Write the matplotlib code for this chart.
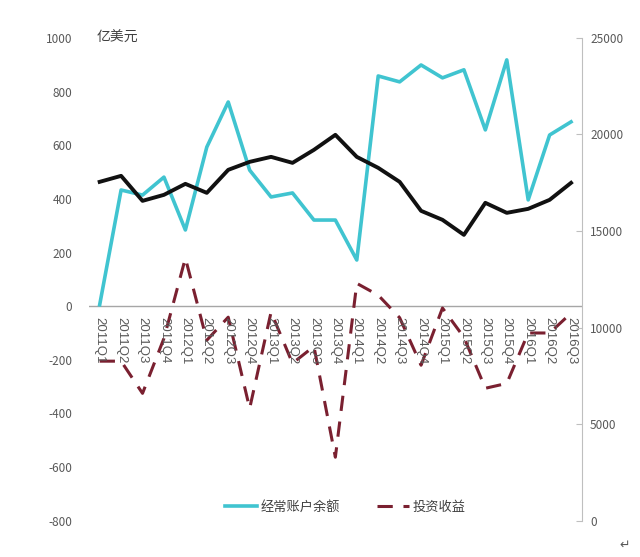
import matplotlib
matplotlib.use("Agg")
import matplotlib.pyplot as plt

plt.rcParams['font.family'] = ['Noto Sans CJK SC', 'DejaVu Sans']
plt.rcParams['axes.unicode_minus'] = False

quarters = ['2011Q1', '2011Q2', '2011Q3', '2011Q4',
            '2012Q1', '2012Q2', '2012Q3', '2012Q4',
            '2013Q1', '2013Q2', '2013Q3', '2013Q4',
            '2014Q1', '2014Q2', '2014Q3', '2014Q4',
            '2015Q1', '2015Q2', '2015Q3', '2015Q4',
            '2016Q1', '2016Q2', '2016Q3']

# 经常账户余额 (left axis, 亿美元)
current_account = [5, 433, 414, 481, 284, 593, 761, 507, 407, 422, 321, 321,
                   172, 858, 836, 899, 851, 881, 657, 918, 396, 638, 687]

# 投资收益 (left axis)
invest_income = [-205, -205, -325, -120, 179, -127, -41, -381, -22, -213,
                 -150, -563, 85, 41, -43, -220, -7, -116, -306, -288, -100,
                 -100, -26]

# black line, right axis
reserves = [17547, 17857, 16563, 16874, 17443, 16977, 18168, 18582, 18840,
            18530, 19203, 19980, 18840, 18271, 17547, 16046, 15580, 14803,
            16460, 15942, 16149, 16615, 17495]

cyan = '#40C4D0'
darkred = '#7A2030'
gray = '#595959'

fig = plt.figure(figsize=(6.4, 5.57), dpi=100)
ax = fig.add_axes([0.139, 0.065, 0.770, 0.867])
ax2 = ax.twinx()

x = list(range(len(quarters)))
l1, = ax.plot(x, current_account, color=cyan, lw=2.6, label='经常账户余额')
l2, = ax.plot(x, invest_income, color=darkred, lw=2.2, dashes=(5, 3.5), label='投资收益')
ax2.plot(x, reserves, color='#111111', lw=2.8)

ax.set_xlim(-0.5, len(quarters) - 0.5)
ax.set_ylim(-800, 1000)
ax.set_yticks(range(-800, 1001, 200))
ax2.set_ylim(0, 25000)
ax2.set_yticks(range(0, 25001, 5000))

ax.axhline(0, color='#A6A6A6', lw=1, zorder=0)
ax.set_xticks(x)
ax.set_xticklabels([])
for xi, q in zip(x, quarters):
    ax.text(xi, -40, q, rotation=270, ha='center', va='top', fontsize=9.5,
            color=gray, family='Liberation Sans')

for s in ['top', 'left', 'bottom']:
    ax.spines[s].set_visible(False)
    ax2.spines[s].set_visible(False)
ax.spines['right'].set_visible(False)
ax2.spines['right'].set_color('#BFBFBF')

ax.tick_params(axis='x', length=0)
ax.tick_params(axis='y', length=0, labelsize=8.5, labelcolor=gray, pad=12)
ax2.tick_params(axis='y', length=4, color='#BFBFBF', direction='in',
                labelsize=8.5, labelcolor=gray, pad=6)

ax.text(-0.15, 1000, '亿美元', fontsize=10, color='#404040', va='center')

ax.legend(handles=[l1, l2], loc='lower center', bbox_to_anchor=(0.52, -0.01),
          ncol=2, frameon=False, fontsize=9.5, handlelength=2.4,
          handletextpad=0.3, columnspacing=2.8, labelcolor='#404040')

fig.text(0.985, 0.015, '↵', fontsize=9, color='#595959', ha='right',
         family='DejaVu Sans')

fig.savefig('out.png', dpi=100, facecolor='white')
